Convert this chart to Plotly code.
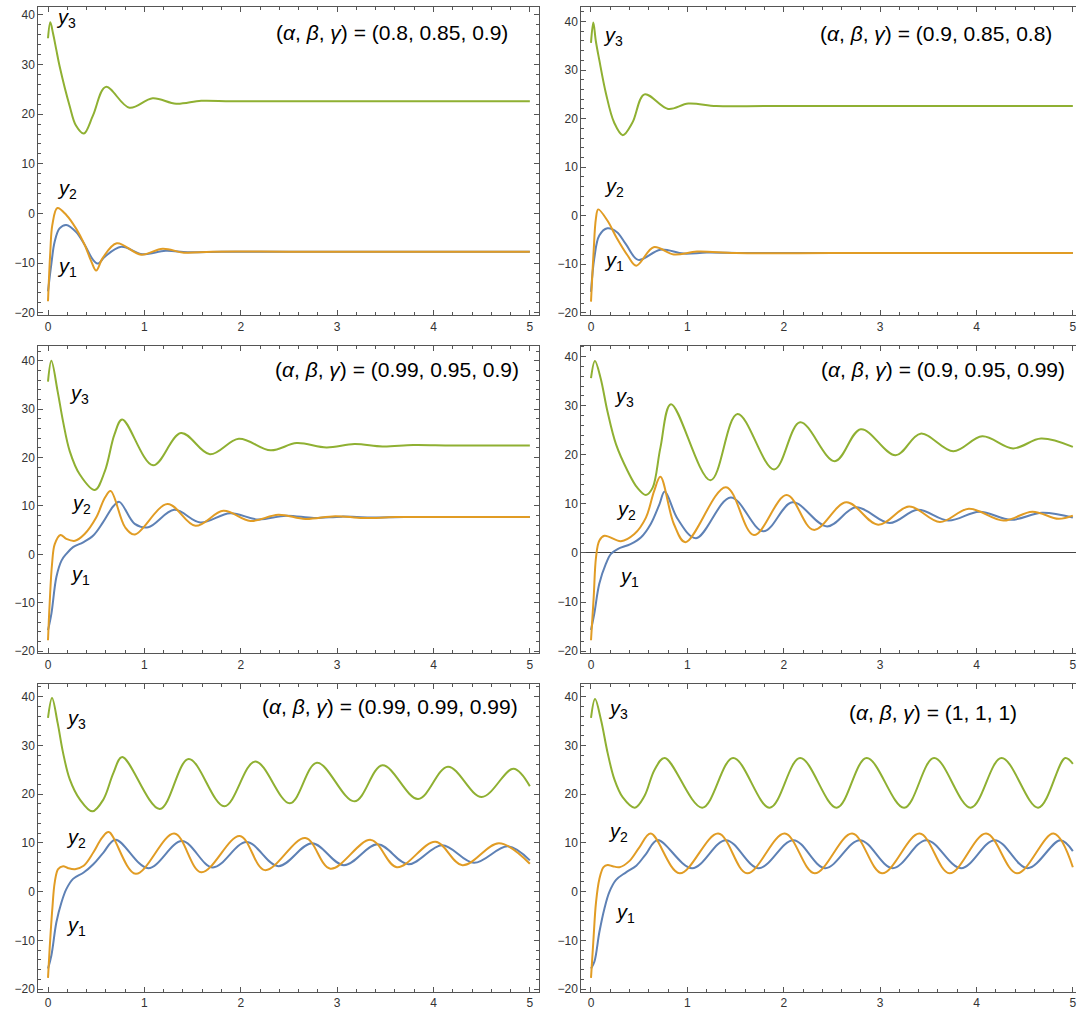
import plotly.graph_objects as go

BLUE = "#5E81B5"
ORANGE = "#E19C24"
GREEN = "#8FB032"

# ---------------- data ----------------
# Panel 1: (0.8, 0.85, 0.9)
P1_T1 = [0, 0.034, 0.069, 0.12, 0.19, 0.29, 0.38, 0.466, 0.52, 0.59, 0.76, 0.98, 1.22, 1.45, 1.8, 2.5, 3.5, 5.0]
P1_Y1 = [-15.7, -10.3, -5.7, -3.0, -2.3, -3.7, -6.3, -9.3, -10.1, -8.7, -6.7, -8.2, -7.5, -7.8, -7.7, -7.7, -7.7, -7.7]
P1_T2 = [0, 0.024, 0.045, 0.097, 0.19, 0.29, 0.38, 0.45, 0.50, 0.57, 0.714, 0.966, 1.19, 1.41, 1.7, 2.5, 3.5, 5.0]
P1_Y2 = [-17.7, -7.7, -2.3, 1.1, -0.3, -3.0, -6.3, -9.7, -11.5, -8.9, -6.0, -8.3, -7.1, -7.9, -7.7, -7.7, -7.7, -7.7]
P1_T3 = [0, 0.024, 0.052, 0.086, 0.12, 0.224, 0.29, 0.372, 0.466, 0.60, 0.845, 1.086, 1.33, 1.59, 1.9, 2.5, 3.5, 5.0]
P1_Y3 = [35.3, 38.5, 36.3, 33.0, 29.7, 21.7, 17.7, 16.1, 19.7, 25.5, 21.3, 23.2, 22.1, 22.7, 22.6, 22.6, 22.6, 22.6]

# Panel 2: (0.9, 0.85, 0.8)
P2_T1 = [0, 0.034, 0.086, 0.17, 0.27, 0.36, 0.49, 0.72, 0.96, 1.2, 1.6, 2.5, 3.5, 5.0]
P2_Y1 = [-15.7, -8.8, -4.1, -2.6, -3.4, -5.8, -9.1, -7.0, -7.8, -7.6, -7.7, -7.7, -7.7, -7.7]
P2_T2 = [0, 0.027, 0.051, 0.075, 0.17, 0.27, 0.38, 0.47, 0.65, 0.86, 1.1, 1.5, 2.5, 3.5, 5.0]
P2_Y2 = [-17.7, -7.5, -0.6, 1.3, -1.0, -4.7, -8.2, -10.3, -6.5, -8.0, -7.4, -7.7, -7.7, -7.7, -7.7]
P2_T3 = [0, 0.024, 0.05, 0.086, 0.154, 0.24, 0.33, 0.43, 0.555, 0.80, 1.01, 1.3, 1.8, 2.5, 3.5, 5.0]
P2_Y3 = [35.6, 39.8, 36.0, 32.1, 25.3, 19.2, 16.6, 19.2, 25.0, 22.0, 23.1, 22.6, 22.6, 22.6, 22.6, 22.6]

# Panel 3: (0.99, 0.95, 0.9)
P3_T1 = [0, 0.035, 0.087, 0.14, 0.19, 0.26, 0.365, 0.47, 0.57, 0.68, 0.74, 0.90, 1.04, 1.31, 1.58,
         1.89, 2.18, 2.47, 2.76, 3.05, 3.34, 3.7, 4.2, 5.0]
P3_Y1 = [-15.7, -12.3, -4.7, -1.3, 0.1, 1.5, 2.5, 3.9, 6.6, 10.0, 10.85, 6.3, 5.6, 9.2, 6.6,
         8.5, 7.2, 8.0, 7.5, 7.8, 7.6, 7.7, 7.7, 7.7]
P3_T2 = [0, 0.017, 0.042, 0.07, 0.13, 0.19, 0.28, 0.38, 0.50, 0.59, 0.65, 0.80, 0.90, 1.24,
         1.53, 1.82, 2.10, 2.39, 2.67, 2.98, 3.27, 3.6, 4.2, 5.0]
P3_Y2 = [-17.75, -10.2, -2.0, 2.1, 4.0, 3.2, 2.8, 4.2, 7.6, 11.7, 13.1, 5.6, 4.1, 10.4,
         5.9, 9.0, 6.9, 8.2, 7.3, 7.9, 7.5, 7.7, 7.7, 7.7]
P3_T3 = [0, 0.035, 0.10, 0.156, 0.226, 0.33, 0.486, 0.59, 0.69, 0.77, 1.09, 1.38, 1.68,
         1.98, 2.31, 2.58, 2.89, 3.18, 3.47, 3.79, 4.2, 5.0]
P3_Y3 = [35.7, 40.0, 33.7, 27.5, 21.3, 16.5, 13.3, 17.2, 24.8, 27.9, 18.4, 25.1, 20.7,
         23.9, 21.5, 23.0, 22.1, 22.8, 22.3, 22.6, 22.5, 22.5]

# Panel 4: (0.9, 0.95, 0.99)
P4_T1 = [0, 0.034, 0.086, 0.155, 0.207, 0.276, 0.41, 0.52, 0.62, 0.71, 0.765, 0.90, 1.09,
         1.45, 1.79, 2.09, 2.45, 2.75, 3.10, 3.39, 3.71, 4.03, 4.36, 4.68, 5.0]
P4_Y1 = [-15.7, -12.4, -6.3, -2.2, -0.2, 0.8, 1.8, 3.2, 5.9, 9.9, 12.5, 6.9, 3.0,
         11.3, 4.4, 10.3, 5.4, 9.3, 6.1, 8.8, 6.6, 8.4, 6.75, 8.2, 7.2]
P4_T2 = [0, 0.028, 0.052, 0.086, 0.14, 0.31, 0.45, 0.57, 0.655, 0.72, 0.86, 0.98, 1.40,
         1.69, 2.03, 2.31, 2.65, 2.98, 3.30, 3.62, 3.92, 4.28, 4.58, 4.85, 5.0]
P4_Y2 = [-17.8, -9.0, -0.9, 2.5, 3.5, 2.4, 3.85, 7.2, 12.6, 15.5, 5.9, 2.2, 13.4,
         3.65, 11.8, 4.7, 10.3, 5.75, 9.45, 6.3, 9.0, 6.6, 8.4, 6.95, 7.6]
P4_T3 = [0, 0.041, 0.10, 0.17, 0.26, 0.38, 0.48, 0.57, 0.64, 0.72, 0.83, 1.24, 1.52,
         1.90, 2.17, 2.53, 2.80, 3.16, 3.42, 3.76, 4.06, 4.38, 4.67, 5.0]
P4_Y3 = [35.6, 39.1, 35.6, 28.9, 22.1, 16.7, 13.3, 11.8, 13.3, 21.4, 30.3, 14.8, 28.3,
         17.0, 26.6, 18.7, 25.2, 19.9, 24.3, 20.7, 23.75, 21.3, 23.3, 21.6]

# Panel 5: (0.99, 0.99, 0.99)
P5_T1 = [0, 0.035, 0.087, 0.14, 0.19, 0.26, 0.37, 0.47, 0.575, 0.70, 1.04, 1.39, 1.71, 2.06,
         2.39, 2.74, 3.07, 3.42, 3.74, 4.09, 4.42, 4.77, 5.0]
P5_Y1 = [-15.8, -13.1, -6.3, -2.2, 0.5, 2.6, 3.9, 5.6, 8.0, 10.65, 4.8, 10.35, 4.95, 10.15,
         5.2, 9.9, 5.4, 9.7, 5.6, 9.5, 5.9, 9.3, 6.4]
P5_T2 = [0, 0.017, 0.045, 0.07, 0.105, 0.157, 0.21, 0.28, 0.37, 0.47, 0.56, 0.63, 0.91,
         1.31, 1.59, 1.99, 2.25, 2.67, 2.93, 3.35, 3.62, 4.02, 4.30, 4.68, 5.0]
P5_Y2 = [-17.7, -11.7, -3.5, 1.9, 4.6, 5.2, 4.8, 4.6, 5.3, 8.0, 11.0, 12.2, 3.65,
         11.9, 3.95, 11.4, 4.4, 11.0, 4.7, 10.6, 5.0, 10.2, 5.4, 9.9, 5.7]
P5_T3 = [0, 0.042, 0.10, 0.157, 0.226, 0.33, 0.46, 0.575, 0.68, 0.77, 1.16, 1.46, 1.83,
         2.15, 2.51, 2.79, 3.18, 3.47, 3.84, 4.15, 4.50, 4.83, 5.0]
P5_Y3 = [35.6, 39.7, 34.6, 28.4, 23.0, 18.9, 16.45, 18.9, 24.4, 27.6, 16.95, 27.2, 17.5,
         26.7, 18.1, 26.4, 18.5, 25.9, 19.0, 25.6, 19.4, 25.2, 21.6]

# Panel 6: (1, 1, 1)
P6_T1 = [0, 0.035, 0.087, 0.139, 0.19, 0.26, 0.36, 0.47, 0.57, 0.69, 1.05, 1.40, 1.74, 2.10,
         2.43, 2.79, 3.13, 3.48, 3.84, 4.19, 4.53, 4.87, 5.0]
P6_Y1 = [-15.8, -14.4, -8.3, -3.5, -0.1, 2.4, 3.9, 5.3, 7.7, 10.55, 4.8, 10.55, 4.8, 10.55,
         4.8, 10.55, 4.8, 10.55, 4.8, 10.55, 4.8, 10.55, 8.3]
P6_T2 = [0, 0.024, 0.052, 0.087, 0.13, 0.173, 0.225, 0.295, 0.40, 0.50, 0.62, 0.92, 1.32,
         1.62, 2.01, 2.32, 2.71, 3.02, 3.41, 3.72, 4.10, 4.42, 4.80, 5.0]
P6_Y2 = [-17.7, -10.3, -2.2, 2.6, 5.0, 5.45, 5.2, 5.0, 6.3, 9.0, 11.9, 3.75, 11.9,
         3.75, 11.9, 3.75, 11.9, 3.75, 11.9, 3.75, 11.9, 3.75, 11.9, 5.0]
P6_T3 = [0, 0.042, 0.104, 0.173, 0.243, 0.33, 0.455, 0.555, 0.66, 0.765, 1.155, 1.475, 1.855, 2.17,
         2.55, 2.86, 3.25, 3.56, 3.94, 4.26, 4.64, 4.92, 5.0]
P6_Y3 = [35.6, 39.5, 35.2, 28.4, 23.0, 19.3, 17.2, 19.6, 25.0, 27.4, 17.2, 27.4, 17.2, 27.4,
         17.2, 27.4, 17.2, 27.4, 17.2, 27.4, 17.2, 27.4, 26.2]

TITLES = ["(0.8, 0.85, 0.9)", "(0.9, 0.85, 0.8)", "(0.99, 0.95, 0.9)",
          "(0.9, 0.95, 0.99)", "(0.99, 0.99, 0.99)", "(1, 1, 1)"]
X_TICKS = [0, 1, 2, 3, 4, 5]
Y_TICKS = [-20, -10, 0, 10, 20, 30, 40]

SERIES = [
    [(P1_T1, P1_Y1), (P1_T2, P1_Y2), (P1_T3, P1_Y3)],
    [(P2_T1, P2_Y1), (P2_T2, P2_Y2), (P2_T3, P2_Y3)],
    [(P3_T1, P3_Y1), (P3_T2, P3_Y2), (P3_T3, P3_Y3)],
    [(P4_T1, P4_Y1), (P4_T2, P4_Y2), (P4_T3, P4_Y3)],
    [(P5_T1, P5_Y1), (P5_T2, P5_Y2), (P5_T3, P5_Y3)],
    [(P6_T1, P6_Y1), (P6_T2, P6_Y2), (P6_T3, P6_Y3)],
]

# ---------------- layout geometry (pixels) ----------------
W, H = 1077, 1013
PX_PER_UNIT = 96.46
COL_LEFT = [38.4, 581.9]          # frame left edge of each column
ROW_TOP = [7.3, 347.3, 687.3]
ROW_BOT = [316.7, 656.7, 996.7]
Y_RANGES = [(-20.48, 41.54), (-20.49, 42.95), (-20.49, 43.16),
            (-20.48, 42.24), (-20.55, 42.59), (-20.55, 42.59)]
# label positions (data coords)
LBL_POS = [
    [(0.20, -10.9), (0.20, 4.9), (0.19, 39.2)],
    [(0.24, -9.5), (0.24, 5.9), (0.23, 36.9)],
    [(0.33, -4.3), (0.34, 10.3), (0.32, 33.1)],
    [(0.39, -5.0), (0.36, 8.6), (0.34, 31.6)],
    [(0.29, -7.1), (0.29, 10.8), (0.29, 35.3)],
    [(0.35, -4.5), (0.285, 12.2), (0.285, 37.3)],
]
TITLE_POS = [(3.57, 36.5), (3.58, 37.6), (3.62, 38.3), (3.65, 37.4), (3.55, 38.0), (3.55, 36.8)]

FRAME = "#555555"
TICKFONT = dict(family="Liberation Sans, Arial, sans-serif", size=12, color="#333333")
TEXTFONT = dict(family="Liberation Sans, Arial, sans-serif", size=20, color="black")
TITLEFONT = dict(family="Liberation Sans, Arial, sans-serif", size=21, color="black")

fig = go.Figure()
layout = dict(width=W, height=H, margin=dict(l=0, r=0, t=0, b=0),
              paper_bgcolor="white", plot_bgcolor="white", showlegend=False)
annotations = []

for i in range(6):
    row, col = divmod(i, 2)
    n = "" if i == 0 else str(i + 1)
    xa, ya = "x" + n, "y" + n
    left = COL_LEFT[col]
    right = min(W, left + 5.2 * PX_PER_UNIT)
    xr = [-0.1, -0.1 + (right - left) / PX_PER_UNIT]
    layout["xaxis" + n] = dict(
        domain=[left / W, right / W], range=xr, anchor=ya,
        tickvals=X_TICKS, ticktext=[str(v) for v in X_TICKS],
        ticks="inside", ticklen=5, tickcolor=FRAME, tickwidth=1,
        minor=dict(dtick=0.2, tick0=0, ticks="inside", ticklen=3, tickcolor=FRAME, tickwidth=1),
        showline=True, linecolor=FRAME, linewidth=1, mirror="ticks",
        showgrid=False, zeroline=False, tickfont=TICKFONT, ticklabeloverflow="allow",
    )
    layout["yaxis" + n] = dict(
        domain=[1 - ROW_BOT[row] / H, 1 - ROW_TOP[row] / H], range=list(Y_RANGES[i]), anchor=xa,
        tickvals=Y_TICKS, ticktext=[str(v) if v >= 0 else "\u2212" + str(-v) for v in Y_TICKS],
        ticks="inside", ticklen=5, tickcolor=FRAME, tickwidth=1,
        minor=dict(dtick=2, tick0=0, ticks="inside", ticklen=3, tickcolor=FRAME, tickwidth=1),
        showline=True, linecolor=FRAME, linewidth=1,
        mirror=("ticks" if col == 0 else False),
        showgrid=False, zeroline=(i == 3), zerolinecolor="#444444", zerolinewidth=1,
        tickfont=TICKFONT, ticklabeloverflow="allow",
    )
    for (t, v), color in zip(SERIES[i], [BLUE, ORANGE, GREEN]):
        fig.add_trace(go.Scatter(x=t, y=v, mode="lines", xaxis=xa, yaxis=ya,
                                 line=dict(color=color, width=2, shape="spline", smoothing=1),
                                 hoverinfo="skip", showlegend=False))
    for k, (lx, ly) in enumerate(LBL_POS[i]):
        annotations.append(dict(x=lx, y=ly, xref=xa, yref=ya, showarrow=False,
                                text="<i>y</i><sub>%d</sub>" % (k + 1), font=TEXTFONT,
                                xanchor="center", yanchor="middle"))
    tx, ty = TITLE_POS[i]
    annotations.append(dict(x=tx, y=ty, xref=xa, yref=ya, showarrow=False,
                            text="(<i>\u03b1</i>, <i>\u03b2</i>, <i>\u03b3</i>) = " + TITLES[i],
                            font=TITLEFONT, xanchor="center", yanchor="middle"))

layout["annotations"] = annotations
fig.update_layout(**layout)
fig.write_html("out.html")
